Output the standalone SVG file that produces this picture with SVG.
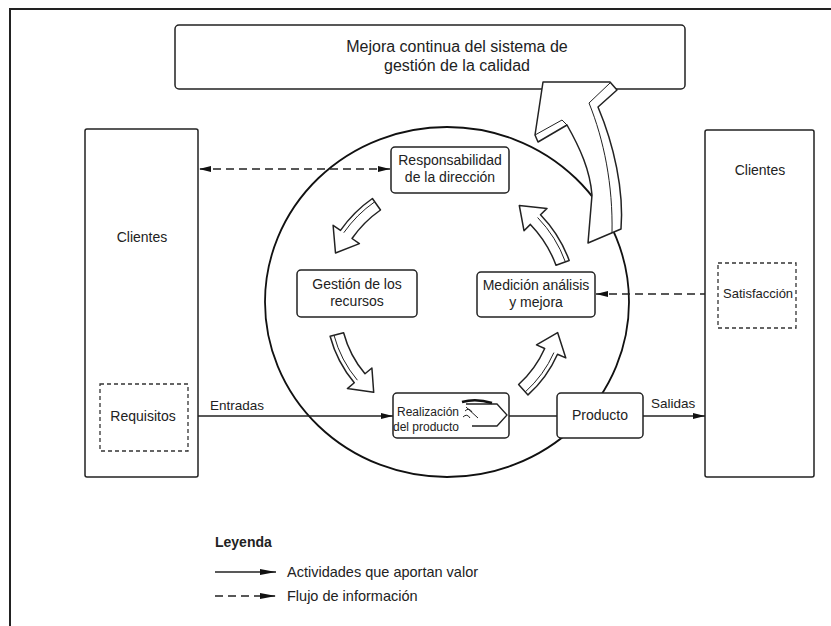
<svg xmlns="http://www.w3.org/2000/svg" width="831" height="626" viewBox="0 0 831 626">
<defs>
<style>
text{font-family:"Liberation Sans",Arial,sans-serif;fill:#222;}
.box{fill:#fff;stroke:#222;stroke-width:1.5;}
.dbox{fill:none;stroke:#333;stroke-width:1.3;stroke-dasharray:4 3;}
.ln{fill:none;stroke:#222;stroke-width:1.3;}
.dash{fill:none;stroke:#222;stroke-width:1.5;stroke-dasharray:8 5;}
.barrow{fill:#fff;stroke:#222;stroke-width:1.5;stroke-linejoin:round;}
.inner{fill:none;stroke:#222;stroke-width:1;}
.m{font-size:14px;text-anchor:middle;}
.s{font-size:13.5px;}
</style>
<marker id="ah" viewBox="0 0 12 6" refX="12" refY="3" markerWidth="12" markerHeight="6" orient="auto-start-reverse" markerUnits="userSpaceOnUse"><path d="M0,0 L12,3 L0,6 z" fill="#111"/></marker>
<marker id="ahL" viewBox="0 0 16 6" refX="16" refY="3" markerWidth="16" markerHeight="6" orient="auto" markerUnits="userSpaceOnUse"><path d="M0,0 L16,3 L0,6 z" fill="#111"/></marker>
</defs>
<rect width="831" height="626" fill="#fff"/>
<path d="M10,626 V9 H831" fill="none" stroke="#222" stroke-width="2"/>

<g id="circle"><ellipse cx="447" cy="302" rx="182" ry="175" fill="none" stroke="#111" stroke-width="1.8"/></g>

<g id="connectors">
<path class="dash" d="M390,169 H199" marker-start="url(#ah)" marker-end="url(#ah)"/>
<path class="dash" d="M596,294 H718" marker-start="url(#ah)" marker-end="url(#ah)"/>
<path class="ln" d="M188,416 H393" marker-end="url(#ah)"/>
<path class="ln" d="M508,416 H557"/>
<path class="ln" d="M643,416 H705" marker-end="url(#ah)"/>
<text x="210" y="410" class="s">Entradas</text>
<text x="651" y="408" class="s">Salidas</text>
</g>

<g id="cycle-arrows">
<path class="barrow" d="M372.4,198.5 A130,130 0 0 0 340.5,230.4 L333.1,225.3 L335.5,253.0 L359.4,243.6 L352.0,238.5 A116,116 0 0 1 380.5,210.0 Z"/>
<path class="inner" d="M374.7,201.8 A126,126 0 0 0 343.8,232.7"/>
<path class="barrow" d="M330.1,336.3 A121,121 0 0 0 354.3,382.8 L347.4,388.6 L373.7,392.3 L371.9,368.0 L365.0,373.8 A107,107 0 0 1 343.6,332.7 Z"/>
<path class="inner" d="M334.0,335.3 A117,117 0 0 0 357.4,380.2"/>
<path class="barrow" d="M528.0,394.9 A121,121 0 0 0 557.5,354.2 L565.8,357.9 L557.6,332.6 L536.5,344.9 L544.7,348.5 A107,107 0 0 1 518.6,384.5 Z"/>
<path class="inner" d="M525.3,391.9 A117,117 0 0 0 553.9,352.6"/>
<path class="barrow" d="M569.2,260.5 A130,130 0 0 0 540.5,214.7 L547.0,208.4 L519.3,205.5 L524.0,230.7 L530.4,224.4 A116,116 0 0 1 556.0,265.3 Z"/>
<path class="inner" d="M565.4,261.9 A126,126 0 0 0 537.6,217.5"/>
</g>

<g id="mejora">
<rect class="box" x="175" y="25" width="510" height="64" rx="4"/>
<text x="457" y="52" font-size="16" text-anchor="middle">Mejora continua del sistema de</text>
<text x="457" y="71" font-size="16" text-anchor="middle">gestión de la calidad</text>
</g>

<g id="big-arrow">
<path class="barrow" d="M588,243 L621,229 C624,190 614,145 598,107 L617,90 L610,82 L543,82 L535,135 L538,142 L567,125 C580,148 590,170 592,195 L588,243 Z"/>
<path class="inner" d="M535,135 L562,120 L567,125 M589,103 L610,83 M589,103 C604,140 613,185 612,233"/>
</g>

<g id="clientes-izq">
<rect class="box" x="85" y="129" width="113" height="348" rx="2"/>
<text x="142" y="242" class="m">Clientes</text>
</g>
<g id="requisitos">
<rect class="dbox" x="100" y="384" width="88" height="67"/>
<text x="143" y="421" class="m">Requisitos</text>
</g>

<g id="clientes-der">
<rect class="box" x="705" y="130" width="109" height="347" rx="2"/>
<text x="760" y="175" class="m">Clientes</text>
</g>
<g id="satisfaccion">
<rect class="dbox" x="718" y="263" width="78" height="65"/>
<text x="723" y="298" font-size="13">Satisfacción</text>
</g>

<g id="responsabilidad">
<rect class="box" x="391" y="147" width="118" height="46" rx="4"/>
<text x="450" y="165" class="m">Responsabilidad</text>
<text x="450" y="182" class="m">de la dirección</text>
</g>

<g id="gestion">
<rect class="box" x="297" y="270" width="120" height="47" rx="4"/>
<text x="357" y="289" class="m">Gestión de los</text>
<text x="357" y="306" class="m">recursos</text>
</g>

<g id="medicion">
<rect class="box" x="477" y="272" width="118" height="45" rx="4"/>
<text x="536" y="290" class="m">Medición análisis</text>
<text x="536" y="307" class="m">y mejora</text>
</g>

<g id="realizacion">
<rect class="box" x="393" y="393" width="116" height="45" rx="4"/>
<path d="M466,404 L497,404 L507,415 L497,426 L472,426" fill="none" stroke="#222" stroke-width="1.3"/>
<path d="M462,402 Q476,398 492,403" fill="none" stroke="#111" stroke-width="2.5"/>
<path d="M465,411 q4,-4 7,1 M463,417 q4,-4 7,1 M466,407 L478,418" fill="none" stroke="#222" stroke-width="1"/>
<text x="397" y="416" font-size="12">Realización</text>
<text x="393" y="431" font-size="12">del producto</text>
</g>

<g id="producto">
<rect class="box" x="557" y="393" width="86" height="45" rx="4"/>
<text x="600" y="420" class="m">Producto</text>
</g>

<g id="leyenda">
<text x="215" y="547" font-size="14" font-weight="bold">Leyenda</text>
<path class="ln" d="M215,572 H276" marker-end="url(#ahL)"/>
<path class="dash" d="M215,596 H276" stroke-dasharray="7 4" marker-end="url(#ahL)"/>
<text x="287" y="577" font-size="14.5">Actividades que aportan valor</text>
<text x="287" y="601" font-size="14.5">Flujo de información</text>
</g>
</svg>
